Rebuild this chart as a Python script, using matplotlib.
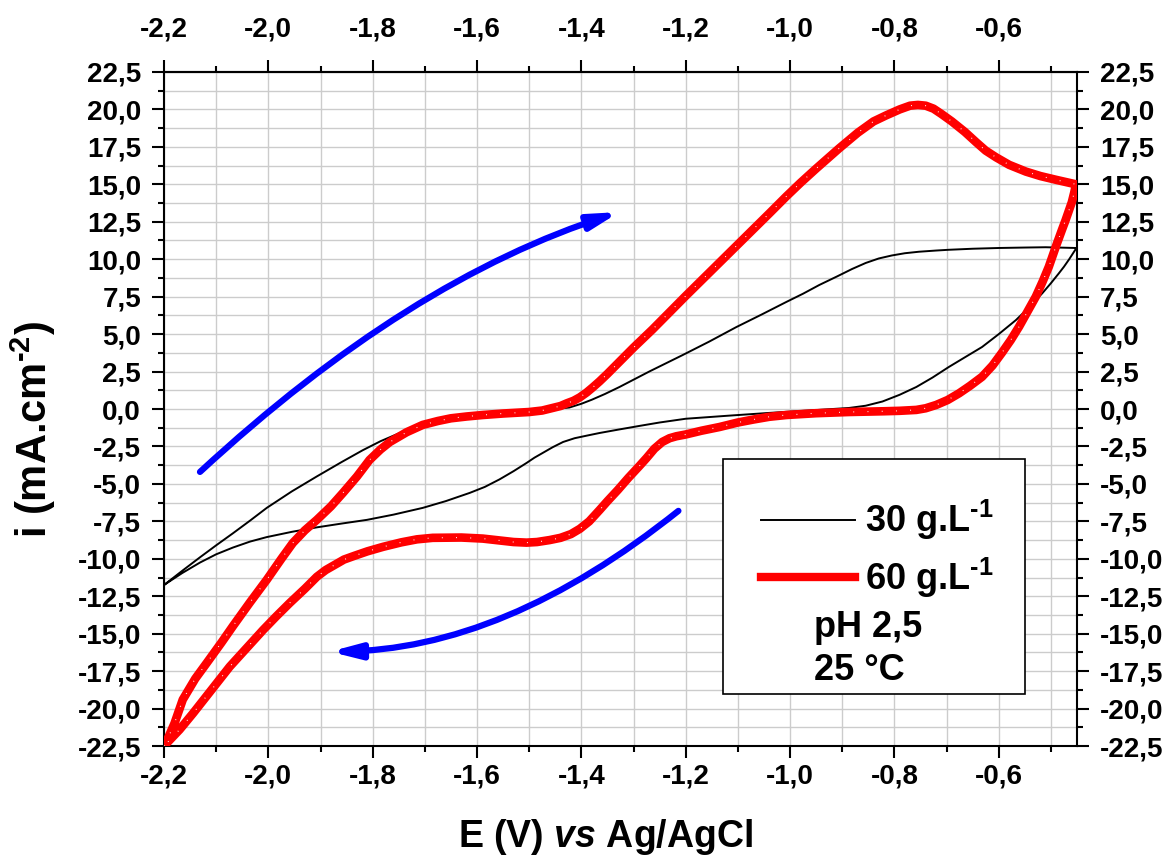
import numpy as np
import matplotlib

matplotlib.use("Agg")
import matplotlib.pyplot as plt
from matplotlib.lines import Line2D
from matplotlib.patches import FancyArrowPatch, Rectangle
from matplotlib.path import Path
from matplotlib.ticker import MultipleLocator, FuncFormatter

plt.rcParams["font.family"] = ["Liberation Sans", "DejaVu Sans"]
plt.rcParams["font.weight"] = "bold"
plt.rcParams["mathtext.fontset"] = "custom"
plt.rcParams["mathtext.rm"] = "Liberation Sans:bold"
plt.rcParams["mathtext.bf"] = "Liberation Sans:bold"
plt.rcParams["mathtext.it"] = "Liberation Sans:bold:italic"

# 30 g/L voltammogram: anodic scan then cathodic scan
E_30 = [-2.200, -2.165, -2.131, -2.100, -2.068, -2.035, -2.003, -1.955, -1.907,
        -1.860, -1.819, -1.785, -1.748, -1.700, -1.650, -1.600, -1.550, -1.500,
        -1.460, -1.423, -1.400, -1.380, -1.355, -1.327, -1.270, -1.206, -1.155,
        -1.103, -1.055, -1.007, -0.975, -0.944, -0.910, -0.881, -0.855, -0.830,
        -0.805, -0.780, -0.753, -0.720, -0.696, -0.650, -0.600, -0.550, -0.510,
        -0.452,
        -0.452, -0.465, -0.475, -0.485, -0.500, -0.516, -0.540, -0.567, -0.600,
        -0.632, -0.665, -0.696, -0.727, -0.758, -0.790, -0.823, -0.855, -0.887,
        -0.950, -1.040, -1.120, -1.200, -1.250, -1.289, -1.330, -1.365, -1.390,
        -1.413, -1.435, -1.455, -1.475, -1.490, -1.505, -1.530, -1.557, -1.585,
        -1.614, -1.660, -1.704, -1.760, -1.811, -1.860, -1.907, -1.955, -2.003,
        -2.035, -2.068, -2.100, -2.131, -2.165, -2.200]
i_30 = [-11.75, -10.80, -9.90, -9.10, -8.30, -7.45, -6.60, -5.50, -4.50,
        -3.55, -2.75, -2.15, -1.60, -1.10, -0.72, -0.45, -0.28, -0.15,
        -0.03, 0.10, 0.35, 0.62, 1.00, 1.47, 2.50, 3.60, 4.50,
        5.47, 6.30, 7.15, 7.70, 8.28, 8.85, 9.35, 9.75, 10.05,
        10.25, 10.40, 10.50, 10.58, 10.63, 10.70, 10.75, 10.78, 10.80,
        10.75,
        10.70, 10.00, 9.50, 9.05, 8.40, 7.75, 6.85, 5.94, 5.00,
        4.14, 3.45, 2.80, 2.10, 1.47, 0.95, 0.50, 0.22, 0.07,
        -0.07, -0.26, -0.45, -0.65, -0.90, -1.13, -1.38, -1.60, -1.78,
        -1.95, -2.20, -2.55, -2.95, -3.25, -3.60, -4.15, -4.70, -5.20,
        -5.60, -6.15, -6.60, -7.05, -7.40, -7.65, -7.90, -8.20, -8.55,
        -8.85, -9.25, -9.70, -10.25, -10.95, -11.75]

# 60 g/L voltammogram
E_60 = [-2.200, -2.194, -2.180, -2.164, -2.140, -2.118, -2.090, -2.068, -2.035,
        -2.003, -1.975, -1.953, -1.930, -1.907, -1.880, -1.857, -1.830, -1.806,
        -1.785, -1.767, -1.735, -1.704, -1.675, -1.650, -1.620, -1.589, -1.550,
        -1.500, -1.475, -1.455, -1.440, -1.428, -1.415, -1.403, -1.390, -1.378,
        -1.365, -1.350, -1.330, -1.300, -1.264, -1.230, -1.200, -1.168, -1.120,
        -1.072, -1.040, -1.007, -0.980, -0.950, -0.906, -0.870, -0.840, -0.816,
        -0.790, -0.770, -0.755, -0.740, -0.725, -0.710, -0.690, -0.665, -0.643,
        -0.625, -0.605, -0.580, -0.548, -0.520, -0.490, -0.452,
        -0.455, -0.460, -0.466, -0.472, -0.479, -0.490, -0.504, -0.516, -0.529,
        -0.545, -0.561, -0.577, -0.594, -0.612, -0.632, -0.655, -0.676, -0.698,
        -0.720, -0.740, -0.758, -0.790, -0.820, -0.887, -0.950, -1.007, -1.040,
        -1.070, -1.100, -1.135, -1.170, -1.200, -1.218, -1.231, -1.245, -1.260,
        -1.275, -1.290, -1.310, -1.330, -1.350, -1.365, -1.385, -1.403, -1.420,
        -1.440, -1.461, -1.485, -1.505, -1.530, -1.550, -1.589, -1.630, -1.685,
        -1.715, -1.745, -1.780, -1.810, -1.835, -1.855, -1.875, -1.890, -1.907,
        -1.930, -1.959, -1.985, -2.010, -2.040, -2.074, -2.110, -2.144, -2.170,
        -2.200]
i_60 = [-22.50, -22.10, -21.00, -19.40, -18.00, -16.95, -15.60, -14.50, -12.90,
        -11.40, -10.00, -8.94, -8.10, -7.40, -6.50, -5.60, -4.50, -3.40,
        -2.70, -2.20, -1.55, -1.06, -0.80, -0.62, -0.50, -0.40, -0.30,
        -0.20, -0.10, 0.07, 0.20, 0.38, 0.55, 0.78, 1.10, 1.45,
        1.85, 2.35, 3.05, 4.10, 5.30, 6.50, 7.55, 8.65, 10.30,
        11.95, 13.05, 14.20, 15.10, 16.05, 17.40, 18.45, 19.20, 19.60,
        20.00, 20.25, 20.30, 20.25, 20.05, 19.70, 19.20, 18.50, 17.80,
        17.25, 16.80, 16.30, 15.85, 15.55, 15.30, 15.00,
        14.50, 13.80, 13.20, 12.60, 11.95, 10.90, 9.50, 8.50, 7.50,
        6.50, 5.50, 4.60, 3.75, 2.90, 2.15, 1.55, 1.05, 0.60,
        0.27, 0.05, -0.06, -0.12, -0.15, -0.20, -0.28, -0.40, -0.52,
        -0.70, -0.90, -1.20, -1.45, -1.70, -1.82, -1.95, -2.20, -2.65,
        -3.27, -3.85, -4.60, -5.40, -6.15, -6.74, -7.50, -8.00, -8.35,
        -8.60, -8.75, -8.88, -8.92, -8.88, -8.80, -8.65, -8.58, -8.60,
        -8.70, -8.90, -9.20, -9.50, -9.80, -10.05, -10.45, -10.75, -11.20,
        -12.00, -12.95, -13.85, -14.75, -15.90, -17.20, -18.80, -20.30, -21.40,
        -22.50]

# scan direction arrows: start, control, end (quadratic curves)
arrow_fwd = [(-2.131, -4.2), (-1.732, 8.65), (-1.327, 13.15)]
arrow_bwd = [(-1.214, -6.8), (-1.548, -16.1), (-1.882, -16.2)]


def comma_fmt(v, _pos):
    return f"{v:.1f}".replace(".", ",")


fig = plt.figure(figsize=(11.68, 8.59), dpi=100)
ax = fig.add_axes([0.1404, 0.1315, 0.7817, 0.7847])

ax.plot(E_30, i_30, color="black", lw=1.4, zorder=3)
ax.plot(E_60, i_60, color="#ff0000", lw=6.2, solid_joinstyle="round",
        solid_capstyle="round", zorder=4)
ax.plot(E_60, i_60, color="white", lw=0.8, dashes=(0.8, 12), zorder=5)

for pts in (arrow_fwd, arrow_bwd):
    path = Path(pts, [Path.MOVETO, Path.CURVE3, Path.CURVE3])
    ax.add_patch(FancyArrowPatch(path=path,
                                 arrowstyle="-|>,head_length=0.85,head_width=0.22",
                                 mutation_scale=20, color="#0000ff", lw=4.5, zorder=6))

ax.set_xlim(-2.2, -0.45)
ax.set_ylim(-22.5, 22.5)
ax.xaxis.set_major_locator(MultipleLocator(0.2))
ax.xaxis.set_minor_locator(MultipleLocator(0.1))
ax.yaxis.set_major_locator(MultipleLocator(2.5))
ax.yaxis.set_minor_locator(MultipleLocator(1.25))
ax.xaxis.set_major_formatter(FuncFormatter(comma_fmt))
ax.yaxis.set_major_formatter(FuncFormatter(comma_fmt))
ax.grid(True, which="both", color="#cccccc", lw=1.0, zorder=0)
ax.set_axisbelow(True)

ax.tick_params(which="both", direction="out", top=False, right=True,
               labelright=True, width=1.5, labelsize=20)
ax.tick_params(which="major", length=8.5)
ax.tick_params(axis="x", which="major", pad=4)
ax.tick_params(axis="y", which="major", pad=8)
ax.tick_params(which="minor", length=4.5)
for sp in ax.spines.values():
    sp.set_linewidth(1.5)

# top axis repeats the potential scale
top = ax.secondary_xaxis("top")
top.xaxis.set_major_locator(MultipleLocator(0.2))
top.xaxis.set_minor_locator(MultipleLocator(0.1))
top.xaxis.set_major_formatter(FuncFormatter(comma_fmt))
top.tick_params(which="both", direction="out", width=1.5, labelsize=20)
top.tick_params(which="major", length=8.5, pad=13)
top.tick_params(which="minor", length=4.5)
top.spines["top"].set_linewidth(1.5)

ax.set_xlabel(r"E (V) $\mathit{vs}$ Ag/AgCl", fontsize=27, fontweight="bold")
ax.xaxis.set_label_coords(0.484, -0.105)
ax.set_ylabel(r"i (mA.cm$^{\text{-2}}$)", fontsize=30, fontweight="bold")
ax.yaxis.set_label_coords(-0.116, 0.469)

# legend box with the experimental conditions
ax.add_patch(Rectangle((0.612, 0.0772), 0.331, 0.3486, transform=ax.transAxes,
                       facecolor="white", edgecolor="black", lw=1.2, zorder=7))
handles = [Line2D([], [], color="black", lw=1.4),
           Line2D([], [], color="#ff0000", lw=6.0)]
leg = ax.legend(handles, [r"30 g.L$^{\text{-1}}$", r"60 g.L$^{\text{-1}}$"],
                loc="upper left", bbox_to_anchor=(0.618, 0.416), frameon=False,
                fontsize=26, handlelength=2.6, handletextpad=0.3, labelspacing=0.36)
leg.set_zorder(8)
ax.text(0.712, 0.1766, "pH 2,5", transform=ax.transAxes, fontsize=26,
        fontweight="bold", va="center", zorder=9)
ax.text(0.712, 0.1128, "25 °C", transform=ax.transAxes, fontsize=26,
        fontweight="bold", va="center", zorder=9)

fig.savefig("out.png", dpi=100)
